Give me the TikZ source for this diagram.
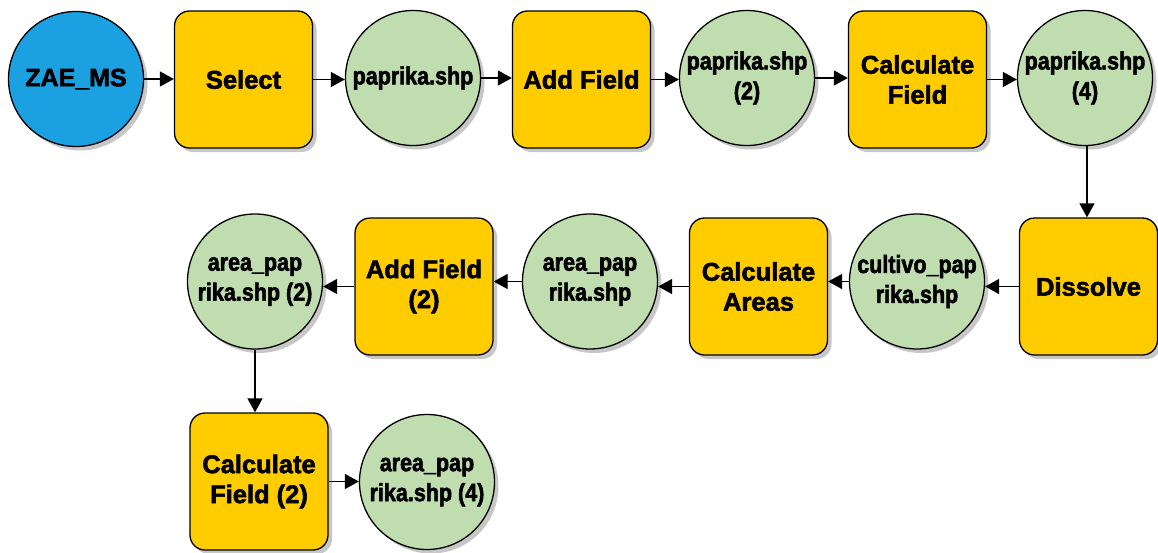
\documentclass[tikz,border=0pt]{standalone}
\usepackage{fontspec}
\setmainfont{Liberation Sans}[BoldFeatures={FakeBold=2.2}]
\newfontfamily\narrowfont{Liberation Sans}[FakeStretch=0.86,BoldFeatures={FakeBold=2.2}]
\usetikzlibrary{arrows.meta,shadows,calc}
\definecolor{cblue}{HTML}{1BA1E2}
\definecolor{cyellow}{HTML}{FFCC00}
\definecolor{cgreen}{HTML}{C0DDAF}
\tikzset{
  shad/.style={drop shadow={shadow xshift=4pt,shadow yshift=-4pt,fill=black!22,opacity=1}},
  proc/.style={shad,draw=black,line width=1.3pt,fill=cyellow,rounded corners=15pt,
    minimum width=138pt,minimum height=137pt,align=center,inner sep=0pt,
    font=\fontsize{25.5}{30}\selectfont\bfseries},
  dataset/.style={shad,circle,draw=black,line width=1.3pt,fill=cgreen,minimum size=135pt,
    align=center,inner sep=0pt,font=\narrowfont\fontsize{25}{30}\selectfont\bfseries},
  source/.style={dataset,fill=cblue,font=\fontsize{25}{30}\selectfont\bfseries},
  arr/.style={line width=1.3pt,-{Triangle[length=14pt,width=15pt]}}
}
\begin{document}
\begin{tikzpicture}[x=1pt,y=-1pt]
\useasboundingbox (0,0) rectangle (1158,552);
% row 1
\node[source]  (zae)    at (76,79)   {ZAE\_MS};
\node[proc]    (select) at (243.5,79.5) {Select};
\node[dataset] (pap1)   at (413,78)  {paprika.shp};
\node[proc]    (addf)   at (581.5,79.5) {Add Field};
\node[dataset] (pap2)   at (747,78)  {paprika.shp\\(2)};
\node[proc]    (calcf)  at (917.5,79.5) {Calculate\\Field};
\node[dataset] (pap4)   at (1085,78) {paprika.shp\\(4)};
% row 2
\node[proc]    (diss)   at (1088.5,286.5) {Dissolve};
\node[dataset] (cult)   at (917,281.5) {cultivo\_pap\\rika.shp};
\node[proc]    (calca)  at (758.5,286.5) {Calculate\\Areas};
\node[dataset] (area1)  at (590,281.5) {area\_pap\\rika.shp};
\node[proc]    (addf2)  at (424,286.5) {Add Field\\(2)};
\node[dataset] (area2)  at (255,281.5) {area\_pap\\rika.shp (2)};
% row 3
\node[proc]    (calcf2) at (259,481.5) {Calculate\\Field (2)};
\node[dataset] (area4)  at (427,482) {area\_pap\\rika.shp (4)};
% connectors
\draw[arr] (zae) -- (zae -| select.west);
\draw[arr] (select) -- (select -| pap1.west);
\draw[arr] (pap1) -- (pap1 -| addf.west);
\draw[arr] (addf) -- (addf -| pap2.west);
\draw[arr] (pap2) -- (pap2 -| calcf.west);
\draw[arr] (calcf) -- (calcf -| pap4.west);
\draw[arr] (pap4.south -| 1087,0) -- (1087,0 |- diss.north);
\draw[arr] (diss) -- (diss -| cult.east);
\draw[arr] (cult) -- (cult -| calca.east);
\draw[arr] (calca) -- (calca -| area1.east);
\draw[arr] (area1) -- (area1 -| addf2.east);
\draw[arr] (addf2) -- (addf2 -| area2.east);
\draw[arr] (area2.south) -- (area2.south |- calcf2.north);
\draw[arr] (calcf2) -- (calcf2 -| area4.west);
\end{tikzpicture}
\end{document}
